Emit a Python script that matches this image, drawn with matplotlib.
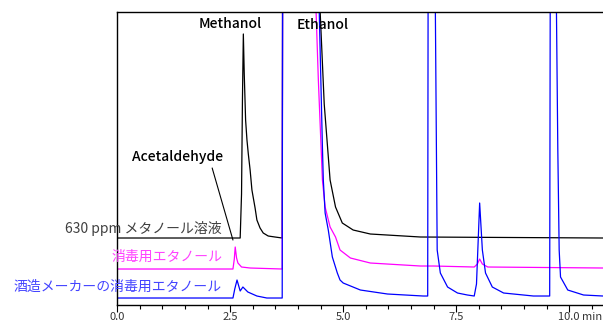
import matplotlib
matplotlib.use('Agg')
import matplotlib.pyplot as plt
import matplotlib.transforms as mtransforms

plt.rcParams['font.family'] = ['Noto Sans CJK JP', 'DejaVu Sans']

# 630 ppm メタノール溶液 (黒)
t_black = [0.0, 2.72, 2.75, 2.77, 2.79, 2.81, 2.84, 2.87, 2.90, 2.94, 2.98, 3.05, 3.09, 3.16,
           3.23, 3.34, 3.49, 3.65, 3.68, 4.40, 4.49, 4.58, 4.64, 4.71, 4.83, 4.98, 5.22,
           5.60, 6.71, 10.75]
s_black = [66, 66, 110, 204, 270, 230, 184, 164, 150, 134, 114, 96, 84, 76,
           71, 68, 67, 66, 1000, 1000, 292, 200, 165, 124, 97, 81, 74,
           70, 67, 66]

# 消毒用エタノール (マゼンタ)
t_mag = [0.0, 2.56, 2.59, 2.61, 2.64, 2.67, 2.75, 2.94, 3.65, 3.68, 4.30, 4.40, 4.45, 4.54,
         4.60, 4.71, 4.83, 4.93, 5.16, 5.60, 6.71, 7.00, 7.90, 7.97, 8.02, 8.08, 8.20,
         10.75]
s_mag = [35, 35, 45, 57, 46, 41, 37, 36, 35, 1000, 1000, 292, 224, 124,
         97, 77, 67, 54, 46, 41, 38, 38, 37, 40, 45, 40, 37,
         36]

# 酒造メーカーの消毒用エタノール (青)
t_blue = [0.0, 2.56, 2.60, 2.65, 2.72, 2.78, 2.89, 3.09, 3.31, 3.65, 3.68, 4.38, 4.47, 4.54,
          4.56, 4.60, 4.67, 4.76, 4.87, 4.93, 5.00, 5.38, 5.98, 6.77, 6.87, 6.90, 6.98,
          7.04, 7.08, 7.15, 7.31, 7.53, 7.75, 7.90, 7.95, 8.02, 8.08, 8.15, 8.30, 8.55,
          9.21, 9.57, 9.61, 9.68, 9.72, 9.75, 9.78, 9.81, 9.97, 10.32, 10.75]
s_blue = [6, 6, 15, 24, 13, 17, 12, 8, 6, 6, 1000, 1000, 292, 157,
          124, 91, 74, 47, 31, 24, 21, 14, 10, 8, 8, 1000, 1000,
          292, 54, 31, 17, 11, 9, 8, 20, 101, 54, 31, 17, 11,
          8, 8, 1000, 1000, 292, 154, 54, 27, 14, 9, 8]

trace_names = ['630 ppm メタノール溶液', '消毒用エタノール', '酒造メーカーの消毒用エタノール']
trace_colors = ['black', '#ff00ff', '#0000ff']
name_colors = ['#404040', '#ff44ff', '#4444ff']
name_levels = [76, 47, 17]

peak_names = ['Methanol', 'Ethanol', 'Acetaldehyde']
peak_pos = [(2.50, 280), (4.54, 279), (1.34, 147)]

xticks = [0.0, 2.5, 5.0, 7.5, 10.0]
xticklabels = ['0.0', '2.5', '5.0', '7.5', '10.0 min']

fig = plt.figure(figsize=(6.03, 3.24), dpi=100)
ax = fig.add_axes([0.1945, 0.0586, 0.8055, 0.9044])

for t, s, c in [(t_black, s_black, trace_colors[0]),
                (t_mag, s_mag, trace_colors[1]),
                (t_blue, s_blue, trace_colors[2])]:
    ax.plot(t, s, color=c, lw=0.9)

ax.set_xlim(0, 10.75)
ax.set_ylim(-1, 292)

ax.spines['right'].set_visible(False)
for sp in ['top', 'left', 'bottom']:
    ax.spines[sp].set_linewidth(1.0)
ax.set_yticks([])
ax.set_xticks(xticks)
ax.set_xticklabels(xticklabels)
ax.set_xticks([0.5 * i for i in range(22) if i % 5 != 0], minor=True)
ax.tick_params(axis='x', which='major', direction='out', length=5, width=0.8,
               labelsize=8, labelcolor='#333333', pad=0.3)
ax.tick_params(axis='x', which='minor', direction='out', length=3, width=0.8)

# "10.0 min": 数字の中心を目盛りに合わせる
last = ax.get_xticklabels()[-1]
last.set_horizontalalignment('left')
last.set_transform(last.get_transform() +
                   mtransforms.ScaledTranslation(-0.11, 0, fig.dpi_scale_trans))

for name, col, lev in zip(trace_names, name_colors, name_levels):
    ax.text(2.32, lev, name, color=col, fontsize=10, ha='right', va='center',
            clip_on=False)

for name, (x, y) in zip(peak_names, peak_pos):
    ax.text(x, y, name, fontsize=10, ha='center', va='center', weight='medium')

# Acetaldehyde の引き出し線
ax.annotate('', xy=(2.56, 64), xytext=(2.10, 136),
            arrowprops=dict(arrowstyle='-', color='black', lw=0.8, shrinkA=0, shrinkB=0))

fig.savefig('out.png', dpi=100)
